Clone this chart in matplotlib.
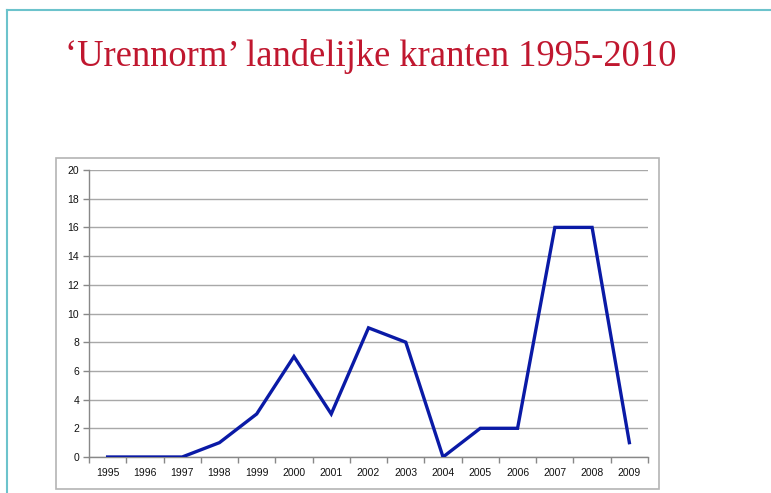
import matplotlib
matplotlib.use("Agg")
import matplotlib.pyplot as plt
from matplotlib.patches import Rectangle
from matplotlib.lines import Line2D
from matplotlib.ticker import FixedLocator, NullFormatter

years = ["1995", "1996", "1997", "1998", "1999", "2000", "2001", "2002",
         "2003", "2004", "2005", "2006", "2007", "2008", "2009"]
values = [0, 0, 0, 1, 3, 7, 3, 9, 8, 0, 2, 2, 16, 16, 1]
yticks = [0, 2, 4, 6, 8, 10, 12, 14, 16, 18, 20]
title = "\u2018Urennorm\u2019 landelijke kranten 1995-2010"

W, H = 771, 493
fig = plt.figure(figsize=(W / 100, H / 100), dpi=100)

def fx(x):
    return x / W

def fy(y):
    return 1 - y / H

# slide border lines (teal)
teal = "#6cc3cc"
fig.add_artist(Line2D([fx(7), fx(771)], [fy(10), fy(10)], color=teal, lw=1.5,
                      transform=fig.transFigure))
fig.add_artist(Line2D([fx(7), fx(7)], [fy(10), fy(493)], color=teal, lw=1.5,
                      transform=fig.transFigure))

# title
fig.text(fx(65), fy(66), title, family="Liberation Serif", fontsize=26.4,
         color="#c0172f", ha="left", va="baseline")

# chart frame
fig.add_artist(Rectangle((fx(56), fy(489)), fx(659) - fx(56), fy(158) - fy(489),
                         transform=fig.transFigure, fill=False,
                         edgecolor="#b4b4b4", lw=1.2))

# plot area
left, right, top, bottom = 89, 648, 170, 457
ax = fig.add_axes([fx(left), fy(bottom), fx(right) - fx(left), fy(top) - fy(bottom)])
n = len(years)
x = list(range(n))
ax.plot(x, values, color="#0a1aa6", lw=2.4, solid_joinstyle="miter", zorder=3)
ax.set_xlim(-0.5, n - 0.5)
ax.set_ylim(0, 20)

ax.set_yticks(yticks)
ax.set_yticklabels([str(v) for v in yticks])
ax.yaxis.grid(True, color="#a8a8a8", lw=1.0)
ax.set_axisbelow(True)

ax.set_xticks(x)
ax.set_xticklabels(years)
ax.tick_params(axis="x", which="major", length=0, pad=8, labelsize=7.5,
               labelcolor="#111111")
ax.xaxis.set_minor_locator(FixedLocator([i - 0.5 for i in range(n + 1)]))
ax.xaxis.set_minor_formatter(NullFormatter())
ax.tick_params(axis="x", which="minor", length=4, color="#888888", width=1)
ax.tick_params(axis="y", length=4, color="#888888", width=1, labelsize=7.5,
               pad=3, labelcolor="#111111")
for lab in ax.get_xticklabels() + ax.get_yticklabels():
    lab.set_family("Liberation Sans")

for s in ["top", "right"]:
    ax.spines[s].set_visible(False)
for s in ["left", "bottom"]:
    ax.spines[s].set_color("#888888")
    ax.spines[s].set_linewidth(1.0)

fig.savefig("out.png", dpi=100)
